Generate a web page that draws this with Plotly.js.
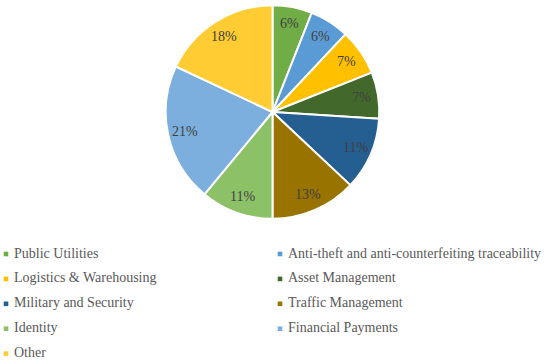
<!DOCTYPE html>
<html><head><meta charset="utf-8">
<script src="https://cdn.plot.ly/plotly-3.0.1.min.js"></script>
<style>html,body{margin:0;padding:0;background:#fff;} #chart{width:550px;height:362px;}</style>
</head><body><div id="chart"></div>
<script>
const categories = ["Public Utilities", "Anti-theft and anti-counterfeiting traceability",
  "Logistics & Warehousing", "Asset Management", "Military and Security",
  "Traffic Management", "Identity", "Financial Payments", "Other"];
const values = [6, 6, 7, 7, 11, 13, 11, 21, 18];
const colors = ["#70AD47", "#5B9BD5", "#FFC000", "#43682B", "#255E91",
  "#997300", "#8CC168", "#7CAFDD", "#FFCD33"];

const W = 550, H = 362;
const cx = 272.5, cy = 112, R = 106.8;
const labelR = 90;

const trace = {
  type: 'pie', labels: categories, values: values, sort: false,
  direction: 'clockwise', rotation: 0,
  marker: {colors: colors, line: {color: '#ffffff', width: 2}},
  textinfo: 'none', hoverinfo: 'label+percent', showlegend: false,
  domain: {x: [(cx - R) / W, (cx + R) / W], y: [1 - (cy + R) / H, 1 - (cy - R) / H]}
};

const total = values.reduce((a, b) => a + b, 0);
const annotations = [];
const shapes = [];
let cum = 0;
values.forEach((v, i) => {
  const ang = (cum + v / 2) / total * 2 * Math.PI;
  cum += v;
  annotations.push({
    xref: 'paper', yref: 'paper', showarrow: false,
    x: (cx + labelR * Math.sin(ang)) / W,
    y: 1 - (cy - labelR * Math.cos(ang)) / H,
    xanchor: 'center', yanchor: 'middle',
    text: Math.round(v / total * 100) + '%',
    font: {family: 'Liberation Serif, Times New Roman, serif', size: 14, color: '#404040'}
  });
});

// legend in two columns
const colMarker = [6, 280], colText = [11.7, 285.7];
const row0 = 253, rowGap = 24.9, ms = 4.6;
categories.forEach((c, i) => {
  const col = i % 2, row = Math.floor(i / 2);
  const y = row0 + row * rowGap;
  shapes.push({
    type: 'rect', xref: 'paper', yref: 'paper',
    x0: (colMarker[col] - ms / 2) / W, x1: (colMarker[col] + ms / 2) / W,
    y0: 1 - (y + 1 + ms / 2) / H, y1: 1 - (y + 1 - ms / 2) / H,
    fillcolor: colors[i], line: {width: 0}
  });
  annotations.push({
    xref: 'paper', yref: 'paper', showarrow: false,
    x: colText[col] / W, y: 1 - y / H, xanchor: 'left', yanchor: 'middle',
    text: c,
    font: {family: 'Liberation Serif, Times New Roman, serif', size: 14, color: '#595959'}
  });
});

const layout = {
  width: W, height: H, margin: {l: 0, r: 0, t: 0, b: 0},
  paper_bgcolor: '#ffffff', plot_bgcolor: '#ffffff', showlegend: false,
  annotations: annotations, shapes: shapes
};
Plotly.newPlot('chart', [trace], layout, {displayModeBar: false, staticPlot: true});
</script></body></html>
